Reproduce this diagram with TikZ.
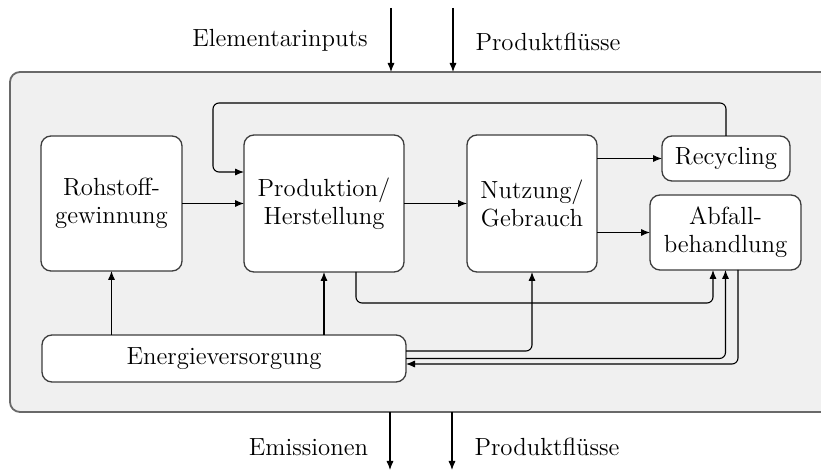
\documentclass[tikz,border=0pt]{standalone}
\usetikzlibrary{arrows.meta}

% Lebenszyklus-Schema: Systemgrenze mit Prozessen und Flüssen
\definecolor{sysfill}{RGB}{240,240,240}
\definecolor{sysline}{RGB}{105,105,105}
\definecolor{boxline}{RGB}{60,60,60}

\tikzset{
  every node/.style={font=\fontsize{12.4}{13.85}\selectfont, align=center, inner sep=0pt, outer sep=0pt},
  procbox/.style={draw=boxline, line width=0.65pt, fill=white, rounded corners=5pt},
  sysbox/.style={draw=sysline, line width=0.9pt, fill=sysfill, rounded corners=5pt},
  flow/.style={draw=black, line width=0.55pt, -{Latex[length=4.5pt,width=3.6pt]}},
  elbow/.style={rounded corners=3pt},
}

\begin{document}
\begin{tikzpicture}[x=0.5pt, y=-0.5pt]
  \useasboundingbox (0,0) rectangle (821,476);
  \clip (0,0) rectangle (821,476);

  % Systemgrenze (rechts über den Rand hinaus)
  \node[sysbox, minimum width=420pt, minimum height=170pt] (sys) at (430,242) {};

  % Prozesse
  \node[procbox, minimum width=70.5pt, minimum height=67.5pt] (roh) at (111.5,203.5) {Rohstoff-\\gewinnung};
  \node[procbox, minimum width=80pt, minimum height=68.5pt] (prod) at (324,203.5) {Produktion/\\Herstellung};
  \node[procbox, minimum width=65pt, minimum height=68.5pt] (nutz) at (532,203.5) {Nutzung/\\Gebrauch};
  \node[procbox, minimum width=64pt, minimum height=22.5pt] (rec) at (726,158.5) {Recycling};
  \node[procbox, minimum width=75.5pt, minimum height=37.5pt] (abf) at (725.5,232.5) {Abfall-\\behandlung};
  \node[procbox, minimum width=182pt, minimum height=23.5pt] (energ) at (224,358.5) {Energieversorgung};

  % Flüsse über die Systemgrenze
  \coordinate (inA) at (391,8);
  \coordinate (inB) at (453,8);
  \coordinate (outA) at (390,470);
  \coordinate (outB) at (452,470);
  \draw[flow] (inA) -- (inA |- sys.north);
  \draw[flow] (inB) -- (inB |- sys.north);
  \draw[flow] (outA |- sys.south) -- (outA);
  \draw[flow] (outB |- sys.south) -- (outB);

  \node[anchor=base] (lin) at (280,47) {Elementarinputs};
  \node[anchor=base] (lpin) at (548,51) {Produktflüsse};
  \node[anchor=base] (lem) at (308.5,456) {Emissionen};
  \node[anchor=base] (lpout) at (547,456) {Produktflüsse};

  % Hauptkette
  \draw[flow] (roh) -- (prod);
  \draw[flow] (prod) -- (nutz);
  \draw[flow] (nutz.east |- rec.west) -- (rec.west);
  \draw[flow] (nutz.east |- abf.west) -- (abf.west);

  % Rückführung aus dem Recycling
  \coordinate (loopR) at (726,103);
  \coordinate (loopL) at (213,103);
  \coordinate (loopD) at (213,172);
  \draw[flow, elbow] (rec.north) -- (loopR) -- (loopL) -- (loopD) -- (loopD -| prod.west);

  % Energieversorgung
  \draw[flow] (energ.north -| roh) -- (roh.south);
  \draw[flow] (energ.north -| prod) -- (prod.south);
  \draw[flow, elbow] ([yshift=3.75pt]energ.east) -| (nutz.south);
  \draw[flow, elbow] (energ.east) -| (abf.south);

  % Abfälle aus der Produktion
  \coordinate (pa) at ([xshift=16pt]prod.south);
  \coordinate (wa) at ([xshift=-6.25pt]abf.south);
  \draw[flow, elbow] (pa) -- ++(0,31) -| (wa);

  % Energie aus der Abfallbehandlung
  \coordinate (wb) at ([xshift=6.25pt]abf.south);
  \draw[flow, elbow] (wb) |- ([yshift=-2.75pt]energ.east);
\end{tikzpicture}
\end{document}
